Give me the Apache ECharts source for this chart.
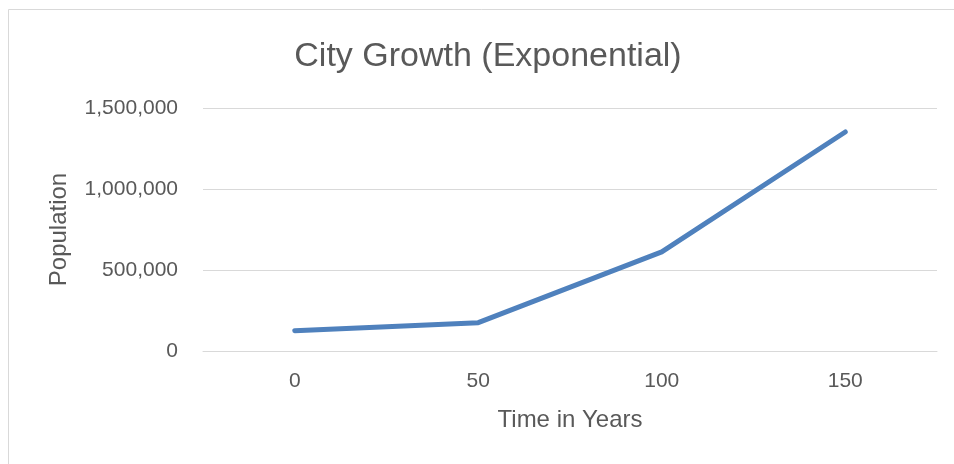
<!DOCTYPE html>
<html>
<head>
<meta charset="utf-8">
<script src="https://cdn.jsdelivr.net/npm/echarts@6/dist/echarts.min.js"></script>
<style>
  html, body { margin: 0; padding: 0; background: #fff; }
  #chart { width: 954px; height: 464px; }
</style>
</head>
<body>
<div id="chart"></div>
<script>
// 时间（年）
const years = ['0', '50', '100', '150']
// 人口
const population = [125000, 175000, 612000, 1352000]

const chartDom = document.getElementById('chart')
const chart = echarts.init(chartDom)

const font = '"Liberation Sans", Arial, sans-serif'
const textColor = '#595959'

chart.setOption({
  animation: false,
  backgroundColor: '#fff',
  title: {
    text: 'City Growth (Exponential)',
    left: 483,
    top: 35,
    textAlign: 'center',
    textStyle: {
      fontFamily: font,
      fontSize: 34,
      fontWeight: 'normal',
      color: textColor,
    },
  },
  // 图表外框
  graphic: [
    {
      type: 'rect',
      shape: { x: 8.5, y: 9.5, width: 1000, height: 1000 },
      style: { fill: 'none', stroke: '#d9d9d9', lineWidth: 1 },
      silent: true,
    },
  ],
  grid: {
    left: 203,
    right: 17,
    top: 108,
    bottom: 113,
  },
  xAxis: {
    type: 'category',
    data: years,
    boundaryGap: true,
    name: 'Time in Years',
    nameLocation: 'middle',
    nameGap: 57,
    nameTextStyle: { fontFamily: font, fontSize: 24, color: textColor },
    axisLine: { lineStyle: { color: '#d9d9d9', width: 1 } },
    axisTick: { show: false },
    axisLabel: { fontFamily: font, fontSize: 21, color: textColor, margin: 20 },
  },
  yAxis: {
    type: 'value',
    min: 0,
    max: 1500000,
    interval: 500000,
    name: 'Population',
    nameLocation: 'middle',
    nameGap: 132,
    nameRotate: 90,
    nameTextStyle: { fontFamily: font, fontSize: 24, color: textColor },
    axisLine: { show: false },
    axisTick: { show: false },
    splitLine: { lineStyle: { color: '#d9d9d9', width: 1 } },
    axisLabel: {
      fontFamily: font,
      fontSize: 21,
      color: textColor,
      margin: 25,
      formatter: (value) => value.toLocaleString('en-US'),
    },
  },
  series: [
    {
      type: 'line',
      data: population,
      showSymbol: false,
      lineStyle: { color: '#4f81bd', width: 5, cap: 'round', join: 'round' },
    },
  ],
})
</script>
</body>
</html>
